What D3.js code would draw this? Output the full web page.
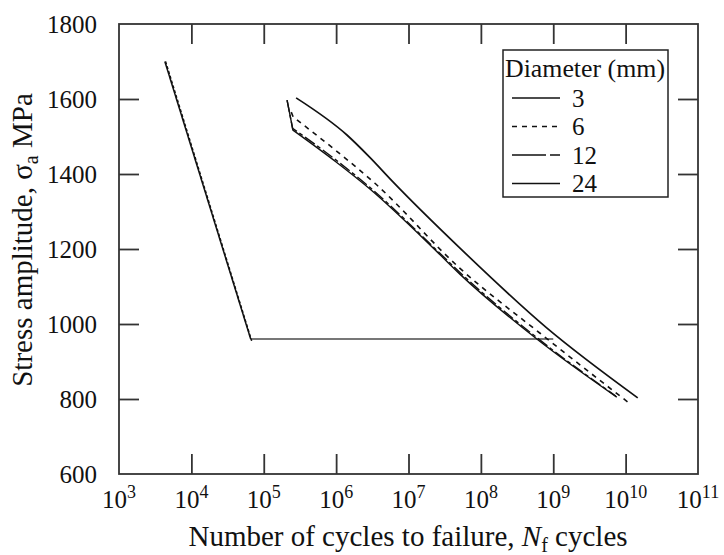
<!DOCTYPE html>
<html>
<head>
<meta charset="utf-8">
<script src="https://cdn.jsdelivr.net/npm/d3@7"></script>
<style>
  html, body { margin: 0; padding: 0; background: #fff; }
  svg text { font-family: "Liberation Serif", "Times New Roman", serif; fill: #111; }
</style>
</head>
<body>
<svg id="chart" width="724" height="555"></svg>
<script>
// Axis ticks
const xTickExponents = [3, 4, 5, 6, 7, 8, 9, 10, 11];
const yTickValues = [600, 800, 1000, 1200, 1400, 1600, 1800];

// Low-cycle branch (two overlapping records) and the endurance plateau
const lowCycleN = [4300, 66000];
const lowCycleS = [1700, 960];
const lowCycleDashN = [4400, 68000];
const lowCycleDashS = [1700, 955];
const plateauN = [66000, 1e9];
const plateauS = [960, 960];

// S-N curves by specimen diameter (first point: start of the initial drop)
const diameters = ["3", "6", "12", "24"];
const curve3N = [2.8e5, 1.41e6, 2.9e6, 6.1e6, 5.1e7, 8.2e8, 1.47e10];
const curve3S = [1603, 1504, 1445, 1379, 1203, 989, 803];
const curve6N = [2.4e5, 2.55e5, 1.0e6, 3.4e6, 5.1e7, 6.5e8, 1.07e10];
const curve6S = [1565, 1552, 1462, 1376, 1149, 976, 792];
const curve12N = [2.1e5, 2.5e5, 1.0e6, 2.9e6, 2.45e7, 5.1e7, 5.9e8, 7.3e9];
const curve12S = [1597, 1522, 1437, 1365, 1197, 1138, 964, 808];
const curve24N = [2.1e5, 2.53e5, 1.0e6, 2.93e6, 2.47e7, 5.13e7, 5.93e8, 7.55e9];
const curve24S = [1597, 1517, 1432, 1360, 1193, 1133, 960, 805];

const svg = d3.select("#chart");
const x = d3.scaleLog().domain([1e3, 1e11]).range([119, 698]);
const y = d3.scaleLinear().domain([600, 1800]).range([474, 24]);

const line = d3.line().x(d => x(d[0])).y(d => y(d[1]));
const smooth = d3.line().x(d => x(d[0])).y(d => y(d[1])).curve(d3.curveMonotoneX);
const zip = (a, b) => a.map((v, i) => [v, b[i]]);

// Frame and inward ticks
const ink = "#333";
svg.append("rect")
  .attr("x", x(1e3)).attr("y", y(1800))
  .attr("width", x(1e11) - x(1e3)).attr("height", y(600) - y(1800))
  .attr("fill", "none").attr("stroke", ink).attr("stroke-width", 1.8);

const innerX = xTickExponents.slice(1, -1).map(e => Math.pow(10, e));
const innerY = yTickValues.slice(1, -1);
const tickLen = 20;

svg.append("g").attr("transform", `translate(0,${y(600)})`)
  .call(d3.axisBottom(x).tickValues(innerX).tickSize(-tickLen).tickFormat(""))
  .call(g => g.select(".domain").remove());
svg.append("g").attr("transform", `translate(0,${y(1800)})`)
  .call(d3.axisTop(x).tickValues(innerX).tickSize(-tickLen).tickFormat(""))
  .call(g => g.select(".domain").remove());
svg.append("g").attr("transform", `translate(${x(1e3)},0)`)
  .call(d3.axisLeft(y).tickValues(innerY).tickSize(-tickLen).tickFormat(""))
  .call(g => g.select(".domain").remove());
svg.append("g").attr("transform", `translate(${x(1e11)},0)`)
  .call(d3.axisRight(y).tickValues(innerY).tickSize(-tickLen).tickFormat(""))
  .call(g => g.select(".domain").remove());
svg.selectAll(".tick line").attr("stroke", ink).attr("stroke-width", 1.8);

// Tick labels
const fs = 25;
svg.append("g").selectAll("text").data(yTickValues).join("text")
  .attr("x", 97).attr("y", d => y(d)).attr("dy", "0.35em")
  .attr("text-anchor", "end").attr("font-size", fs)
  .text(d => d);

const xl = svg.append("g").selectAll("text").data(xTickExponents).join("text")
  .attr("x", d => x(Math.pow(10, d))).attr("y", 508)
  .attr("text-anchor", "middle").attr("font-size", fs);
xl.append("tspan").text("10");
xl.append("tspan").attr("dy", -10).attr("font-size", 18).text(d => d);

// Axis titles
const tfs = 29;
const xt = svg.append("text").attr("x", 408).attr("y", 546)
  .attr("text-anchor", "middle").attr("font-size", tfs);
xt.append("tspan").text("Number of cycles to failure, ");
xt.append("tspan").attr("font-style", "italic").text("N");
xt.append("tspan").attr("font-size", 20).attr("dy", 6).text("f");
xt.append("tspan").attr("dy", -6).text(" cycles");

const yt = svg.append("text")
  .attr("transform", "translate(32,240) rotate(-90)")
  .attr("text-anchor", "middle").attr("font-size", tfs);
yt.append("tspan").text("Stress amplitude, σ");
yt.append("tspan").attr("font-size", 20).attr("dy", 6).text("a");
yt.append("tspan").attr("dy", -6).text("  MPa");

// Data lines
const plot = svg.append("g").attr("fill", "none");

plot.append("path").attr("d", line(zip(plateauN, plateauS)))
  .attr("stroke", "#777").attr("stroke-width", 2.2);

plot.append("path").attr("d", line(zip(lowCycleN, lowCycleS)))
  .attr("stroke", "#111").attr("stroke-width", 1.5);
plot.append("path").attr("d", line(zip(lowCycleDashN, lowCycleDashS)))
  .attr("stroke", "#111").attr("stroke-width", 1.5).attr("stroke-dasharray", "3,2");

const series = [
  { n: curve24N, s: curve24S, dash: null, w: 1.4, kink: true },
  { n: curve12N, s: curve12S, dash: "12,3,4,3", w: 1.4, kink: true },
  { n: curve6N, s: curve6S, dash: "5,5", w: 1.6, kink: true },
  { n: curve3N, s: curve3S, dash: null, w: 1.7, kink: false }
];
series.forEach(sr => {
  const pts = zip(sr.n, sr.s);
  // straight initial drop, then a smooth curve from the corner onward
  const d = sr.kink
    ? line(pts.slice(0, 2)) + smooth(pts.slice(1)).replace(/^M/, "L")
    : smooth(pts);
  plot.append("path").attr("d", d)
    .attr("stroke", "#111").attr("stroke-width", sr.w)
    .attr("stroke-dasharray", sr.dash);
});

// Legend
const lfs = 25;
const lg = svg.append("g");
lg.append("rect").attr("x", 503).attr("y", 50).attr("width", 165).attr("height", 147)
  .attr("fill", "#fff").attr("stroke", "#222").attr("stroke-width", 1.5);
lg.append("text").attr("x", 505).attr("y", 77).attr("font-size", lfs)
  .attr("textLength", 160).attr("lengthAdjust", "spacingAndGlyphs").text("Diameter (mm)");
const legendDash = [null, "5,5", "34,4,10,200", null];
diameters.forEach((d, i) => {
  const yy = 98 + i * 28.5;
  lg.append("line").attr("x1", 512).attr("x2", 560).attr("y1", yy).attr("y2", yy)
    .attr("stroke", "#111").attr("stroke-width", 1.5)
    .attr("stroke-dasharray", legendDash[i]);
  lg.append("text").attr("x", 572).attr("y", yy).attr("dy", "0.35em")
    .attr("font-size", lfs).text(d);
});
</script>
</body>
</html>
